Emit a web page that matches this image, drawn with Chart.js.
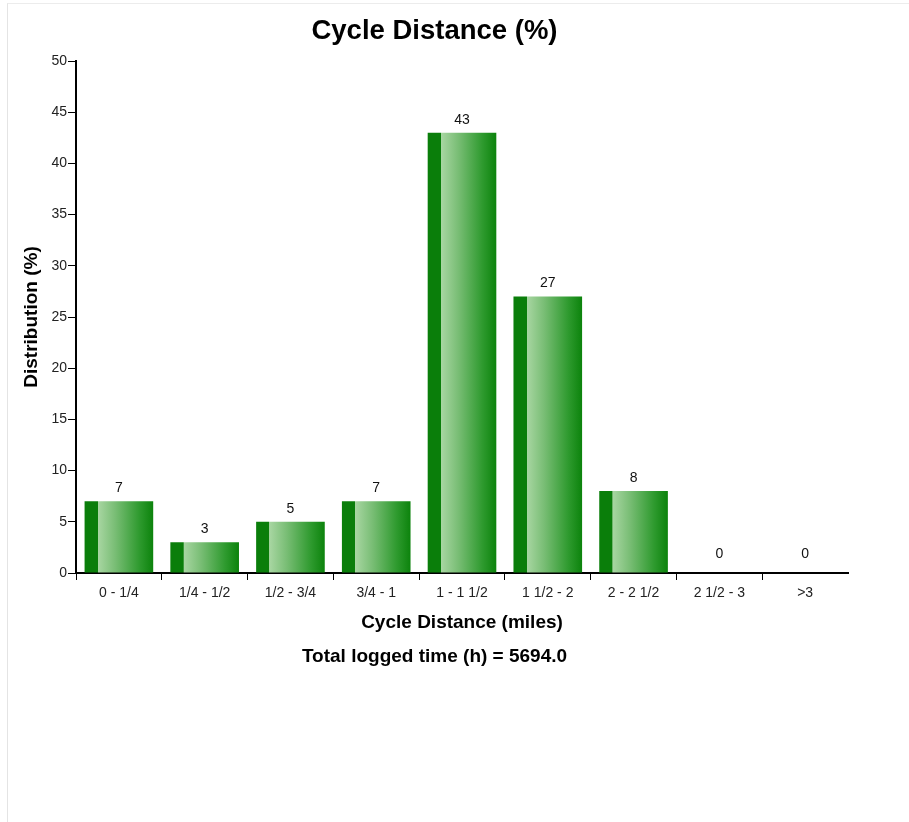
<!DOCTYPE html>
<html>
<head>
<meta charset="utf-8">
<title>Cycle Distance (%)</title>
<script src="https://cdn.jsdelivr.net/npm/chart.js@4.4.1/dist/chart.umd.min.js"></script>
<style>
    html, body { margin: 0; padding: 0; background: #fff; }
    #moldura {
        position: absolute; left: 7px; top: 3px; right: 0; bottom: 0;
        border-left: 1px solid #e4e4e4; border-top: 1px solid #ececec;
    }
    #grafico { position: absolute; left: 0; top: 0; }
</style>
</head>
<body>
<div id="moldura"></div>
<canvas id="grafico" width="869" height="822"></canvas>
<script>
    // dados
    var CATEGORIAS = ["0 - 1/4", "1/4 - 1/2", "1/2 - 3/4", "3/4 - 1", "1 - 1 1/2",
                      "1 1/2 - 2", "2 - 2 1/2", "2 1/2 - 3", ">3"];
    var VALORES    = [7, 3, 5, 7, 43, 27, 8, 0, 0];
    var Y_MIN = 0, Y_MAX = 50, Y_PASSO = 5;
    var TOTAL_HORAS = "5694.0";

    var FONTE = "'Liberation Sans', Arial, sans-serif";
    var PCT_BARRA = 0.8;

    // gradiente horizontal de cada barra: faixa escura à esquerda, clara -> escura
    function corBarra(ctx) {
        var chart = ctx.chart;
        var sx = chart.scales && chart.scales.x;
        if (!chart.chartArea || !sx || ctx.type !== "data") return "#0b7f0b";
        var centro = sx.getPixelForValue(ctx.dataIndex);
        var meia = (sx.width / CATEGORIAS.length) * PCT_BARRA / 2;
        var g = chart.ctx.createLinearGradient(centro - meia, 0, centro + meia, 0);
        g.addColorStop(0,    "#0a7e0a");
        g.addColorStop(0.19, "#0a7e0a");
        g.addColorStop(0.195,"#a8d6a2");
        g.addColorStop(0.45, "#78bd74");
        g.addColorStop(0.8,  "#2e9a2e");
        g.addColorStop(1,    "#0c830c");
        return g;
    }

    // rótulos de valor acima das barras
    var rotulosValor = {
        id: "rotulosValor",
        afterDatasetsDraw: function (chart) {
            var c = chart.ctx;
            var meta = chart.getDatasetMeta(0);
            var base = chart.scales.y.getPixelForValue(0);
            c.save();
            c.font = "14px " + FONTE;
            c.fillStyle = "#111";
            c.textAlign = "center";
            c.textBaseline = "middle";
            meta.data.forEach(function (el, i) {
                var topo = Math.min(el.y, base - 6);
                c.fillText(String(VALORES[i]), el.x, topo - 13);
            });
            c.restore();
        }
    };

    new Chart(document.getElementById("grafico").getContext("2d"), {
        type: "bar",
        data: {
            labels: CATEGORIAS,
            datasets: [{
                data: VALORES,
                backgroundColor: corBarra,
                borderWidth: 0,
                categoryPercentage: PCT_BARRA,
                barPercentage: 1
            }]
        },
        plugins: [rotulosValor],
        options: {
            responsive: false,
            animation: false,
            layout: { padding: { top: 0, left: 0, right: 0, bottom: 153.6 } },
            plugins: {
                legend: { display: false },
                tooltip: { enabled: false },
                title: {
                    display: true,
                    text: "Cycle Distance (%)",
                    color: "#000",
                    font: { family: FONTE, size: 27.5, weight: "bold", lineHeight: 1.2 },
                    padding: { top: 15, bottom: 13 }
                },
                subtitle: {
                    display: true,
                    position: "bottom",
                    text: "Total logged time (h) = " + TOTAL_HORAS,
                    color: "#000",
                    font: { family: FONTE, size: 19, weight: "bold", lineHeight: 1.2 },
                    padding: { top: 11.6, bottom: 0 }
                }
            },
            scales: {
                x: {
                    afterFit: function (s) { s.height = 61; },
                    grid: {
                        display: true,
                        drawOnChartArea: false,
                        drawTicks: true,
                        tickLength: 7,
                        tickColor: function (c) { return c.type === "tick" ? "#000" : "rgba(0,0,0,0)"; },
                        lineWidth: 1
                    },
                    border: { display: true, color: "#000", width: 2 },
                    ticks: {
                        color: "#222",
                        padding: 5,
                        maxRotation: 0,
                        font: { family: FONTE, size: 14 }
                    },
                    title: {
                        display: true,
                        text: "Cycle Distance (miles)",
                        color: "#000",
                        font: { family: FONTE, size: 19, weight: "bold", lineHeight: 1.2 },
                        padding: 0
                    }
                },
                y: {
                    min: Y_MIN,
                    max: Y_MAX,
                    afterFit: function (s) { s.width = 76; },
                    grid: {
                        display: true,
                        drawOnChartArea: false,
                        drawTicks: true,
                        tickLength: 8,
                        tickColor: "#000",
                        lineWidth: 1
                    },
                    border: { display: true, color: "#000", width: 2 },
                    ticks: {
                        stepSize: Y_PASSO,
                        color: "#222",
                        padding: 1,
                        font: { family: FONTE, size: 14 }
                    },
                    title: {
                        display: true,
                        text: "Distribution (%)",
                        color: "#000",
                        font: { family: FONTE, size: 19, weight: "bold", lineHeight: 1.2 },
                        padding: { top: 20.6, bottom: 0 }
                    }
                },
                // eixo vazio à direita, só para reservar a margem
                margemDir: {
                    position: "right",
                    display: true,
                    afterFit: function (s) { s.width = 21; },
                    grid: { display: false },
                    border: { display: false },
                    ticks: { display: false }
                }
            }
        }
    });
</script>
</body>
</html>
